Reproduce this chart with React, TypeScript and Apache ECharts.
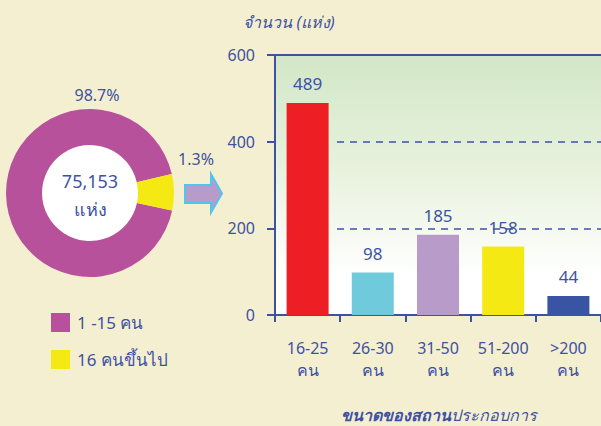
import React, { useEffect, useRef } from "react";
import * as echarts from "echarts";

const sizeCategories = ["16-25\nคน", "26-30\nคน", "31-50\nคน", "51-200\nคน", ">200\nคน"];
const sizeCounts = [489, 98, 185, 158, 44];
const barColors = ["#ed1f24", "#6fcbdc", "#b99bc9", "#f5e914", "#3a54a4"];

const shareNames = ["1 -15 คน", "16 คนขึ้นไป"];
const shareValues = [98.7, 1.3];
const shareColors = ["#b8519b", "#f5e914"];

const totalLabel = "75,153";
const totalUnit = "แห่ง";
const yTicks = [0, 200, 400, 600];
const dashedLevels = [200, 400];

const BLUE = "#3d52a3";
const FONT = "'Noto Sans', 'DejaVu Sans', sans-serif";

export default function App() {
  const ref = useRef<HTMLDivElement>(null);

  useEffect(() => {
    if (!ref.current) return;
    const chart = echarts.init(ref.current, undefined, { renderer: "svg" });
    const option: any = {
      animation: false,
      backgroundColor: "#f5efd2",
      textStyle: { fontFamily: FONT },
      legend: {
        orient: "vertical",
        left: 46,
        top: 308,
        itemWidth: 19,
        itemHeight: 19,
        itemGap: 18,
        icon: "rect",
        data: shareNames,
        selectedMode: false,
        textStyle: { color: BLUE, fontSize: 17, fontFamily: FONT, padding: [0, 0, 0, 2] },
      },
      grid: {
        left: 275,
        right: 0,
        top: 55,
        bottom: 111,
        show: true,
        borderWidth: 0,
        backgroundColor: new echarts.graphic.LinearGradient(0, 0, 0, 1, [
          { offset: 0, color: "#d2e7c7" },
          { offset: 0.45, color: "#e8f2dd" },
          { offset: 0.85, color: "#ffffff" },
          { offset: 1, color: "#ffffff" },
        ]),
      },
      xAxis: [
        {
          type: "category",
          data: sizeCategories,
          axisLine: { show: true, lineStyle: { color: BLUE, width: 2 } },
          axisTick: { show: true, length: 7, lineStyle: { color: BLUE, width: 2 } },
          axisLabel: {
            interval: 0,
            color: BLUE,
            fontSize: 16,
            lineHeight: 22,
            margin: 22,
            fontFamily: FONT,
          },
        },
        {
          type: "category",
          position: "top",
          data: sizeCategories,
          axisLine: { show: true, lineStyle: { color: BLUE, width: 2 } },
          axisTick: { show: false },
          axisLabel: { show: false },
        },
      ],
      yAxis: {
        type: "value",
        min: yTicks[0],
        max: yTicks[yTicks.length - 1],
        interval: 200,
        axisLine: { show: true, lineStyle: { color: BLUE, width: 2 } },
        axisTick: { show: true, length: 8, lineStyle: { color: BLUE, width: 2 } },
        axisLabel: { color: BLUE, fontSize: 16, margin: 20, fontFamily: FONT },
        splitLine: { show: false },
      },
      series: [
        {
          type: "bar",
          xAxisIndex: 0,
          barWidth: 42,
          data: sizeCounts.map((v, i) => ({ value: v, itemStyle: { color: barColors[i] } })),
          label: {
            show: true,
            position: "top",
            distance: 11,
            color: BLUE,
            fontSize: 17,
            fontFamily: FONT,
          },
          markLine: {
            silent: true,
            symbol: "none",
            label: { show: false },
            lineStyle: { color: BLUE, type: [7, 6], width: 1.5, opacity: 1 },
            z: 3,
            data: dashedLevels.map((lv) => [
              { yAxis: lv, x: 337 },
              { yAxis: lv, x: 601 },
            ]),
          },
        },
        {
          type: "pie",
          center: [90, 193],
          radius: [48, 84],
          startAngle: -12,
          minAngle: 25,
          label: { show: false },
          labelLine: { show: false },
          silent: true,
          data: shareNames.map((n, i) => ({
            name: n,
            value: shareValues[i],
            itemStyle: { color: shareColors[i] },
          })),
        },
      ],
      graphic: [
        {
          type: "circle",
          shape: { cx: 90, cy: 193, r: 48 },
          style: { fill: "#ffffff" },
          z: -1,
        },
        {
          type: "text",
          x: 90,
          y: 181,
          style: {
            text: totalLabel,
            fill: BLUE,
            font: `18px ${FONT}`,
            textAlign: "center",
            textVerticalAlign: "middle",
          },
        },
        {
          type: "text",
          x: 90,
          y: 209,
          style: {
            text: totalUnit,
            fill: BLUE,
            font: `18px ${FONT}`,
            textAlign: "center",
            textVerticalAlign: "middle",
          },
        },
        {
          type: "text",
          x: 97,
          y: 95,
          style: {
            text: `${shareValues[0]}%`,
            fill: BLUE,
            font: `16px ${FONT}`,
            textAlign: "center",
            textVerticalAlign: "middle",
          },
        },
        {
          type: "text",
          x: 196,
          y: 159,
          style: {
            text: `${shareValues[1]}%`,
            fill: BLUE,
            font: `16px ${FONT}`,
            textAlign: "center",
            textVerticalAlign: "middle",
          },
        },
        {
          type: "polygon",
          shape: {
            points: [
              [185, 185],
              [211, 185],
              [211, 174],
              [222, 193.5],
              [211, 212.5],
              [211, 203],
              [185, 203],
            ],
          },
          style: { fill: "#b99bc9", stroke: "#4fc5ef", lineWidth: 2 },
        },
        {
          type: "text",
          x: 289,
          y: 22,
          style: {
            text: "จำนวน (แห่ง)",
            fill: BLUE,
            font: `italic 16px ${FONT}`,
            textAlign: "center",
            textVerticalAlign: "middle",
          },
        },
        {
          type: "text",
          x: 439,
          y: 415,
          style: {
            text: "{b|ขนาดของสถาน}{r|ประกอบการ}",
            textAlign: "center",
            textVerticalAlign: "middle",
            rich: {
              b: { fill: BLUE, font: `italic bold 16px ${FONT}` },
              r: { fill: BLUE, font: `italic 16px ${FONT}` },
            },
          },
        },
      ],
    };
    chart.setOption(option);
    return () => chart.dispose();
  }, []);

  return (
    <div
      ref={ref}
      style={{ position: "fixed", left: 0, top: 0, width: 601, height: 426, background: "#f5efd2" }}
    />
  );
}
